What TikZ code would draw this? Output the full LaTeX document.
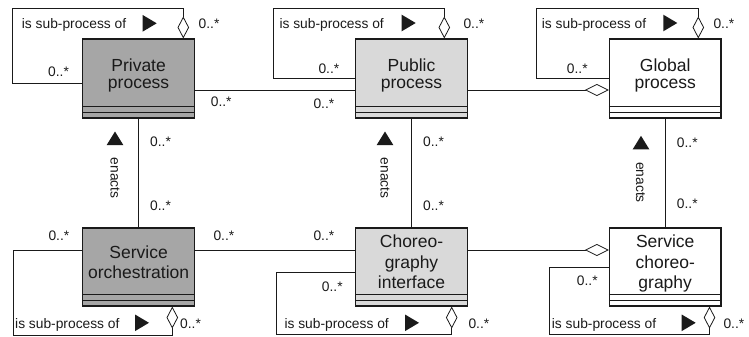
\documentclass[tikz,border=0pt]{standalone}
\usepackage{fontspec}
\setmainfont{Liberation Sans}
\usetikzlibrary{arrows.meta}
\definecolor{darkfill}{HTML}{A6A6A6}
\definecolor{lightfill}{HTML}{D9D9D9}
\definecolor{ink}{HTML}{1A1A1A}

\begin{document}
\begin{tikzpicture}[x=1pt,y=-1pt,
  cls/.style={rectangle, draw=ink, line width=1.1pt, minimum width=111.5pt, inner sep=0pt},
  toprow/.style={cls, minimum height=79pt},
  botrow/.style={cls, minimum height=78pt},
  cmp/.style={draw=ink, line width=0.9pt},
  ctext/.style={align=center, inner sep=0pt, text=ink},
  ctop/.style={ctext, font=\fontsize{17.5}{17}\selectfont},
  cbot/.style={ctext, font=\fontsize{17.5}{20.7}\selectfont},
  lbl/.style={font=\fontsize{13.8}{16}\selectfont, inner sep=0pt, anchor=base west, text=ink},
  rolelbl/.style={font=\fontsize{13.8}{16}\selectfont, inner sep=0pt, rotate=-90, text=ink},
  link/.style={draw=ink, line width=0.8pt},
  agg/.style={link, -{Diamond[open, length=22pt, width=11.5pt]}},
  aggh/.style={link, -{Diamond[open, length=24pt, width=12pt]}},
  tri right/.pic={\fill[ink] (0,-8.3) -- (14,0) -- (0,8.3) -- cycle;},
  tri up/.pic={\fill[ink] (-8.3,0) -- (8.3,0) -- (0,-13.5) -- cycle;}
]
\useasboundingbox (0,0) rectangle (749,337);

% classes
\node[toprow, fill=darkfill]  (priv) at (138.6,78.5) {};
\node[toprow, fill=lightfill] (pub)  at (411.5,78.5) {};
\node[toprow, fill=white]     (glob) at (665.2,78.5) {};
\node[botrow, fill=darkfill]  (orch) at (138.6,267) {};
\node[botrow, fill=lightfill] (chor) at (411.5,267) {};
\node[botrow, fill=white]     (svc)  at (665.2,267) {};

% empty attribute / operation compartments
\foreach \c in {priv,pub,glob,orch,chor,svc}{
  \draw[cmp] ([yshift=12pt]\c.south west) -- ([yshift=12pt]\c.south east);
  \draw[cmp] ([yshift=6pt]\c.south west) -- ([yshift=6pt]\c.south east);
}

% class names
\node[ctop] (privt) at (138.6,75) {Private\\process};
\node[ctop] (pubt)  at (411.5,75) {Public\\process};
\node[ctop] (globt) at (665.2,75.5) {Global\\process};
\node[cbot] (orcht) at (138.6,262.3) {Service\\orchestration};
\node[cbot] (chort) at (411.5,262) {Choreo-\\graphy\\interface};
\node[cbot] (svct)  at (665.2,263.5) {Service\\choreo-\\graphy};

% associations between classes
\draw[link] (priv.east |- 0,90) -- (pub.west |- 0,90);
\draw[aggh] (pub.east |- 0,90) -- (glob.west |- 0,90);
\draw[link] (orch.east |- 0,250) -- (chor.west |- 0,250);
\draw[aggh] (chor.east |- 0,250) -- (svc.west |- 0,250);
\draw[link] (priv.south) -- (orch.north);
\draw[link] (pub.south) -- (chor.north);
\draw[link] (glob.south) -- (svc.north);

% "is sub-process of" self aggregations
\draw[agg] (priv.west |- 0,83) -- (12,83) |- (183.3,8) -- (priv.north -| 183.3,0);
\draw[agg] (pub.west |- 0,78.3) -- (273.3,78.3) |- (444.3,8) -- (pub.north -| 444.3,0);
\draw[agg] (glob.west |- 0,78.3) -- (536.7,78.3) |- (698.3,8) -- (glob.north -| 698.3,0);
\draw[agg] (orch.west |- 0,250) -- (13.3,250) |- (172.3,335) -- (orch.south -| 172.3,0);
\draw[agg] (chor.west |- 0,272.7) -- (276.7,272.7) |- (451.7,334.3) -- (chor.south -| 451.7,0);
\draw[agg] (svc.west |- 0,267.7) -- (549,267.7) |- (709.5,334.3) -- (svc.south -| 709.5,0);

% labels: private process
\node[lbl] (a1) at (21.7,29) {is sub-process of};
\pic at (142.7,23.3) {tri right};
\node[lbl] (a2) at (198.5,28.3) {0..*};
\node[lbl] (a3) at (48,76.7) {0..*};
% public process
\node[lbl] (b1) at (279.3,29) {is sub-process of};
\pic at (401.7,23) {tri right};
\node[lbl] (b2) at (463.3,28.3) {0..*};
\node[lbl] (b3) at (318.3,73.3) {0..*};
% global process
\node[lbl] (c1) at (541.7,29) {is sub-process of};
\pic at (663.3,23) {tri right};
\node[lbl] (c2) at (713.3,28.3) {0..*};
\node[lbl] (c3) at (566.7,73.3) {0..*};
% private -- public
\node[lbl] (d1) at (210.7,106) {0..*};
\node[lbl] (d2) at (313.3,108) {0..*};
% enacts
\pic at (115,145) {tri up};
\node[rolelbl] (e1) at (115,178.3) {enacts};
\node[lbl] (e2) at (150,146.7) {0..*};
\node[lbl] (e3) at (150,210) {0..*};
\pic at (385,145) {tri up};
\node[rolelbl] (f1) at (385,178.3) {enacts};
\node[lbl] (f2) at (423,146.7) {0..*};
\node[lbl] (f3) at (423,210) {0..*};
\pic at (641,149.3) {tri up};
\node[rolelbl] (g1) at (640.5,182.5) {enacts};
\node[lbl] (g2) at (676.7,147.3) {0..*};
\node[lbl] (g3) at (676.7,208.3) {0..*};
% service orchestration
\node[lbl] (h1) at (48.3,240) {0..*};
\node[lbl] (h2) at (15,328.3) {is sub-process of};
\pic at (135,322.8) {tri right};
\node[lbl] (h3) at (180,328.3) {0..*};
\node[lbl] (h4) at (213.3,240) {0..*};
\node[lbl] (h5) at (313.3,240) {0..*};
% choreography interface
\node[lbl] (i1) at (321.7,291.7) {0..*};
\node[lbl] (i2) at (284.3,328.3) {is sub-process of};
\pic at (405,322.8) {tri right};
\node[lbl] (i3) at (468.3,328.3) {0..*};
% service choreography
\node[lbl] (j1) at (576.7,285) {0..*};
\node[lbl] (j2) at (551.7,328.3) {is sub-process of};
\pic at (681.7,322.8) {tri right};
\node[lbl] (j3) at (723.3,328.3) {0..*};
\end{tikzpicture}
\end{document}
